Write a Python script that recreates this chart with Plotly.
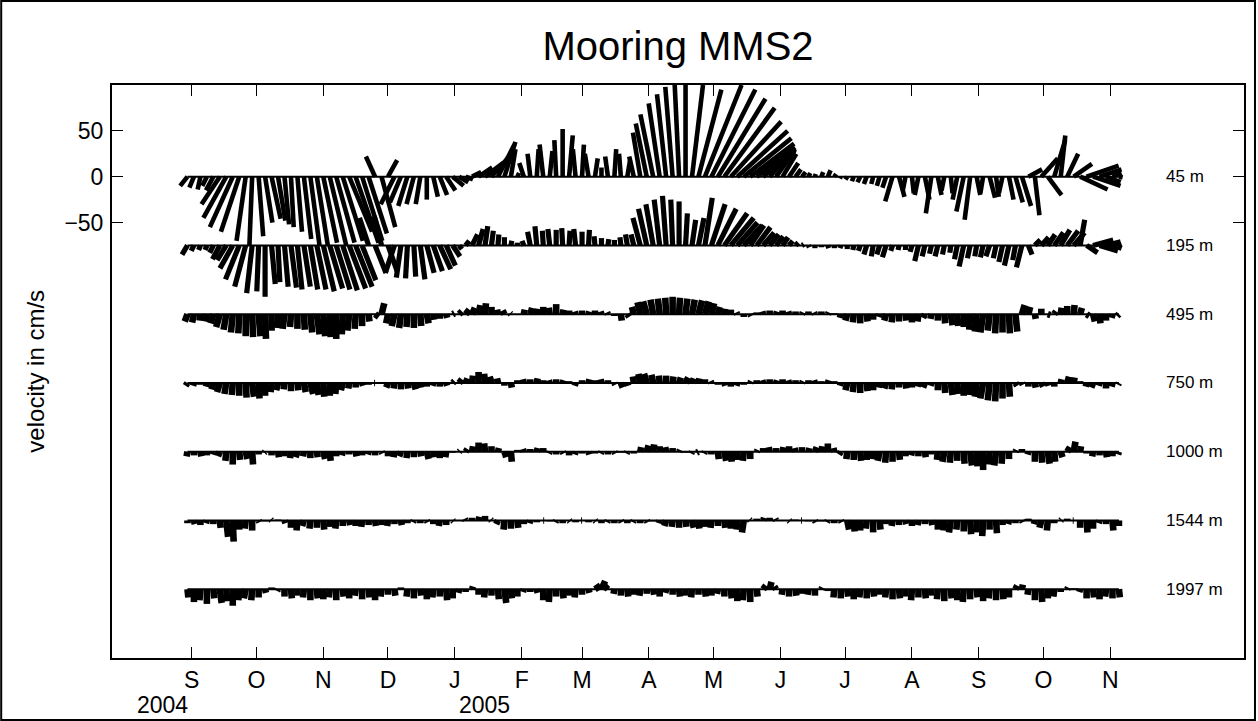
import pandas as pd
import plotly.graph_objects as go

# ---------------- data (cm/s), one stick every 3 days from 2004-08-30 ----------------
start_date = "2004-08-30"
step_days = 3

depth_labels = ["45 m", "195 m", "495 m", "750 m", "1000 m", "1544 m", "1997 m"]
depth_offsets = [0, -75, -150, -225, -300, -375, -450]

v45 = [
    -10, -12, -14, -10, -15, -30, -45, -55, -60, -70,
    -75, -65, -50, -46, -48, -52, -55, -60, -68, -75,
    -75, -72, -75, -72, -70, -60, -72, -70, -62, 22,
    -55, 18, -30, -28, -32, -30, -30, -25, -22, -20,
    -15, -10, -6, -3, 5, 10, 15, 25, 35, 38,
    30, 4, 15, 25, 30, 35, 28, 40, 52, 45,
    30, 35, 25, 20, 10, 22, 30, 25, 18, 22,
    48, 58, 68, 80, 90, 98, 105, 120, 100, 95,
    100, 95, 85, 75, 60, 50, 42, 36, 32, 30,
    30, 28, 25, 15, 8, 5, 4, 3, 5, 7,
    3, -2, -3, -5, -6, -8, -8, -10, -12, -27,
    -22, -15, -18, -20, -25, -40, -20, -15, -18, -25,
    -38, -47, -20, -18, -23, -22, -18, -25, -28, -32,
    8, -42, 20, -20, 40, 45, 25, 14, -14, 12,
    -10, 8, -6, 4, -1]
u45 = [
    -8, -5, -3, -5, -8, -20, -25, -25, -20, -10,
    -3, 5, 8, 10, 8, 5, 3, 5, 8, 10,
    12, 15, 18, 20, 22, 25, 25, 22, 20, -10,
    15, 10, -15, -12, -10, -8, -5, 0, 5, 8,
    10, 12, 10, 8, 10, 15, 20, 22, 18, 12,
    5, 2, -5, -3, 2, -4, 3, -2, 0, 4,
    -3, 2, -4, 3, 0, -3, 2, -2, 3, -5,
    -8, -12, -14, -12, -10, -8, -5, 0, 12, 25,
    40, 48, 52, 55, 55, 55, 52, 48, 42, 35,
    28, 20, 15, 10, 6, 4, 2, 1, 2, 3,
    2, -1, -2, -2, -3, -3, -2, -3, -4, -8,
    6, -3, 2, -4, 5, -6, 4, -3, 2, -5,
    -8, -6, 4, -3, 6, 3, -4, 5, 8, 10,
    15, 5, 18, 15, 12, 5, 12, 20, 30, 35,
    30, 24, 16, 10, 4]

v195 = [
    -10, -6, -5, -5, -8, -15, -16, -25, -37, -45,
    -52, -50, -56, -42, -40, -45, -46, -48, -45, -48,
    -48, -50, -47, -48, -49, -47, -45, -38, 30, -30,
    32, -28, -30, -35, -36, -34, -37, -30, -28, -26,
    -22, -12, -4, 5, 12, 18, 21, 16, 12, 9,
    5, 3, 5, 15, 21, 16, 18, 17, 19, 16,
    18, 15, 17, 10, 8, 7, 6, 9, 12, 12,
    30, 40, 45, 50, 54, 50, 48, 35, 28, 30,
    52, 45, 40, 35, 30, 25, 22, 22, 20, 14,
    12, 10, 9, 5, 3, 1, -2, -3, -2, -3,
    -3, -3, -4, -5, -6, -10, -12, -10, -13, -6,
    -5, -5, -7, -17, -12, -9, -12, -10, -8, -15,
    -23, -14, -12, -13, -12, -14, -18, -22, -16, -24,
    -10, 6, 9, 12, 14, 17, 16, 14, 28, -8,
    6, -6, 4, -3, 1]
u195 = [
    -6, -3, -2, -2, -4, -8, -10, -14, -15, -12,
    -6, -2, 0, 4, 2, 4, 6, 5, 7, 8,
    10, 12, 14, 15, 16, 18, 18, 15, -10, 12,
    -8, 10, -10, -5, -2, 2, 5, 8, 10, 12,
    10, 8, 3, 4, 6, 5, 3, 2, 1, 0,
    1, 0, -2, -3, -2, -1, -2, 0, -1, 1,
    -2, 0, 1, -1, 0, 1, 0, -1, -2, -3,
    -8, -9, -8, -6, -4, -2, 0, 2, 4, 6,
    8, 15, 20, 25, 25, 22, 20, 15, 15, 12,
    10, 8, 6, 4, 3, 2, 1, 0, 0, 1,
    0, -1, 0, -1, -2, -3, -2, -3, -4, -2,
    -1, 0, -2, -4, -3, -2, -3, -2, -1, -3,
    -5, -3, -2, -3, -4, -3, -4, -5, -3, -6,
    4, 6, 8, 8, 10, 10, 12, 12, 5, 12,
    22, 20, 16, 10, 3]

v495 = [
    -8, -9, -7, -8, -10, -14, -17, -20, -21, -24,
    -25, -24, -27, -18, -15, -16, -14, -16, -17, -20,
    -22, -24, -25, -27, -22, -18, -16, -13, -8, -3,
    12, -10, -13, -15, -14, -15, -13, -10, -6, -5,
    -4, 1, 3, 5, 7, 10, 12, 8, 5, 4,
    1, 0, 5, 7, 6, 8, 7, 11, 5, 4,
    3, 4, 3, 4, 3, 2, -2, -7, -3, 8,
    13, 14, 16, 17, 18, 19, 18, 17, 16, 15,
    14, 12, 8, 6, 5, 2, -3, -2, 2, 3,
    4, 3, 4, 3, 3, 2, 3, 2, 3, 2,
    1, -4, -7, -9, -10, -8, -6, -3, -7, -9,
    -8, -7, -9, -8, -4, -5, -7, -10, -12, -13,
    -14, -17, -19, -20, -18, -21, -20, -21, -19, 10,
    8, -5, 6, -1, 3, 7, 9, 10, 7, -2,
    -8, -10, -7, -4, -2]
u495 = [
    -3, -2, -1, -2, -3, -4, -3, -2, -1, 0,
    1, 2, 1, 0, -1, -2, -1, 0, 1, 2,
    3, 2, 1, 0, -1, -2, -1, 0, 1, 4,
    3, -2, -3, -2, -1, 0, 1, 2, 1, 0,
    1, 2, 3, 4, 3, 2, 1, 0, -1, -2,
    -1, 0, 1, 2, 1, 0, -1, 0, 1, 0,
    -1, 0, 1, 0, -1, -1, 0, 1, 2, -2,
    -3, -4, -3, -2, -1, 0, 1, 2, 3, 4,
    4, 3, 2, 1, 0, -1, 0, 1, 0, -1,
    0, 1, 0, -1, 0, 1, 0, -1, 0, 1,
    0, -1, -2, -1, 0, 1, 0, -1, -2, -1,
    0, 1, 0, -1, -2, -1, 0, 1, 2, 1,
    0, -1, -2, -3, -2, -1, 0, 1, 2, 3,
    2, 1, 0, 3, 2, 1, 0, 1, 2, 3,
    2, 1, 0, -1, -2]

v750 = [
    -3, -3, -2, -4, -7, -10, -12, -13, -14, -16,
    -15, -17, -14, -10, -8, -7, -9, -8, -10, -12,
    -13, -15, -14, -12, -8, -6, -5, -3, -2, 0,
    1, -5, -6, -7, -6, -7, -5, -4, -3, -4,
    -3, 2, 4, 5, 8, 12, 10, 7, 5, -3,
    -5, 3, 4, 4, 5, 3, 3, 4, 3, 2,
    -3, 3, 4, 3, 4, 3, -2, -5, -3, 7,
    10, 10, 9, 8, 8, 7, 6, 6, 5, 5,
    4, 2, -2, -3, -4, -3, -2, 2, 3, 3,
    4, 3, 4, 3, 3, 2, 3, 3, 2, 3,
    2, -3, -8, -10, -11, -9, -8, -5, -6, -7,
    -5, -6, -5, -4, -5, -3, -8, -11, -13, -12,
    -14, -13, -15, -17, -19, -20, -17, -15, -3, -2,
    -4, -5, -4, -3, -4, 4, 7, 6, 2, -4,
    -5, -3, -6, -4, -2]
u750 = [
    -2, -1, 0, -1, -2, -3, -2, -1, 0, 1,
    2, 1, 0, -1, -2, -1, 0, 1, 2, 3,
    2, 1, 0, -1, -2, -1, 0, 1, 0, -1,
    0, -2, -1, 0, 1, 2, 1, 0, -1, 0,
    1, 2, 3, 2, 1, 0, -1, -2, -1, 0,
    1, 0, -1, 0, 1, 0, -1, 0, 1, 0,
    -1, 0, 1, 0, -1, 0, 1, 2, 1, -1,
    -2, -3, -2, -1, 0, 1, 2, 3, 2, 1,
    0, -1, 0, 1, 0, -1, 0, 1, 0, -1,
    0, 1, 0, -1, 0, 1, 0, -1, 0, 1,
    0, -1, -2, -1, 0, 1, 0, -1, -2, -1,
    0, 1, 0, -1, -2, -1, 0, 1, 2, 1,
    0, -1, -2, -3, -2, -1, 0, 1, 2, 1,
    0, 1, 2, 1, 0, 1, 2, 1, 0, -1,
    -2, -1, 0, -1, -1]

v1000 = [
    -5, -4, -5, -4, -3, -5, -10, -14, -9, -8,
    -14, -3, -1, -4, -6, -5, -7, -6, -5, -7,
    -6, -8, -10, -5, -4, -3, -5, -4, -3, -4,
    -2, -5, -6, -5, -7, -6, -5, -8, -6, -7,
    -6, -1, 1, 3, 6, 10, 9, 6, 4, -6,
    -11, 2, 3, 3, 4, 4, -2, -3, -2, -4,
    -3, -2, -3, -2, -2, -3, -2, -1, -2, -2,
    5, 7, 8, 6, 5, 4, 2, -1, -2, -1,
    -2, -3, -8, -10, -11, -9, -10, -8, 2, 4,
    5, 4, 5, 6, 4, 5, 4, 5, 6, 9,
    4, -3, -8, -9, -10, -9, -8, -10, -12, -11,
    -9, -5, -4, -5, -6, -3, -9, -11, -12, -10,
    -13, -15, -16, -20, -14, -15, -13, -8, 2, 3,
    -3, -11, -12, -13, -11, -6, 5, 11, 6, -2,
    -5, -4, -6, -5, -3]
u1000 = [
    -1, 0, 1, 0, -1, -2, -1, 0, 1, 2,
    1, 0, -1, 0, 1, 0, -1, -2, -1, 0,
    1, 2, 1, 0, -1, 0, 1, 0, -1, 0,
    1, 0, -1, -2, -1, 0, 1, 2, 1, 0,
    -1, 0, 1, 2, 1, 0, -1, 0, 1, 2,
    1, 0, -1, 0, 1, 0, -1, 0, 1, 0,
    -1, 0, 1, 0, -1, 0, 1, 0, -1, 0,
    1, 2, 1, 0, -1, 0, 1, 0, -1, -2,
    -1, 0, 1, 2, 1, 0, -1, 0, 1, 0,
    -1, 0, 1, 0, -1, 0, 1, 2, 1, 0,
    -1, -2, -1, 0, 1, 0, -1, -2, -1, 0,
    1, 0, -1, 0, 1, 0, -1, -2, -1, 0,
    1, 2, 1, 0, -1, -2, -1, 0, 1, 0,
    -1, 0, 1, 2, 1, 2, 3, 2, 1, 0,
    -1, 0, 1, 0, -1]

v1544 = [
    -3, -4, -5, -3, -4, -8, -18, -23, -10, -9,
    -11, -2, -1, 1, 1, -3, -8, -11, -6, -9,
    -8, -10, -7, -9, -6, -5, -6, -7, -5, -6,
    -5, -6, -4, -5, -3, -2, -3, -2, -4, -6,
    -5, -1, 0, 2, 3, 4, 5, 1, -4, -10,
    -9, -8, -4, -3, -2, 0, -1, -2, -3, -1,
    -2, 0, -2, -1, -3, -2, -3, -2, -3, -2,
    -3, -2, -1, -3, -6, -7, -8, -7, -8, -9,
    -7, -8, -6, -8, -9, -10, -13, 1, 2, 3,
    3, 2, 0, -1, 1, 0, -1, -2, -1, -2,
    -3, -2, -10, -12, -11, -9, -13, -10, -4, -6,
    -5, -4, -6, -5, -4, -5, -10, -11, -13, -10,
    -12, -15, -13, -17, -10, -14, -5, -4, -3, -2,
    2, -4, -8, -11, -3, 1, 2, 0, -8, -13,
    -9, -3, -4, -11, -6]
u1544 = [
    0, 1, 0, -1, 0, 1, 2, 1, 0, -1,
    0, 1, 0, -1, 0, 1, 0, -1, -2, -1,
    0, 1, 0, -1, 0, 1, 0, -1, 0, 1,
    0, -1, 0, 1, 0, -1, 0, 1, 0, -1,
    0, 1, 0, -1, 0, 1, 0, -1, -2, -1,
    0, 1, 0, -1, 0, 1, 0, -1, 0, 1,
    0, -1, 0, 1, 0, -1, 0, 1, 0, -1,
    0, 1, 0, -1, -2, -1, 0, 1, 2, 1,
    0, -1, 0, 1, 0, -1, -2, -1, 0, 1,
    0, -1, 0, 1, 0, -1, 0, 1, 0, -1,
    0, 1, 2, 1, 0, -1, 0, 1, 0, -1,
    0, 1, 0, -1, 0, 1, 0, -1, -2, -1,
    0, 1, 0, -1, 0, 1, 0, -1, 0, 1,
    0, -1, -2, -1, 0, 1, 0, -1, 0, 1,
    0, -1, 0, 1, 0]

v1997 = [
    -9, -14, -12, -16, -10, -15, -13, -18, -12, -10,
    -12, -9, -4, 2, -2, -8, -10, -7, -9, -12,
    -10, -11, -9, -12, -8, -10, -7, -11, -9, -12,
    -8, -6, -7, 2, -8, -10, -7, -11, -9, -8,
    -12, -10, -4, -3, 3, -6, -9, -7, -11, -15,
    -10, -8, -3, -3, -4, -12, -14, -8, -10, -7,
    -9, -6, -4, 4, 9, 6, -5, -7, -8, -6,
    -7, -5, -6, -8, -4, -6, -8, -7, -9, -6,
    -8, -7, -5, -8, -10, -13, -12, -14, -8, 4,
    8, 3, -6, -8, -7, -5, -6, -7, 2, -2,
    -9, -10, -8, -11, -9, -10, -8, -6, -9, -11,
    -10, -8, -12, -9, -10, -7, -11, -13, -10, -12,
    -14, -11, -9, -13, -10, -12, -11, -9, 4, 5,
    -6, -12, -14, -10, -8, -3, 2, 1, -3, -10,
    -9, -11, -8, -10, -9]
u1997 = [
    1, 0, -1, 0, 1, 2, 1, 0, -1, -2,
    -1, 0, 1, 0, -1, 0, 1, 0, -1, 0,
    1, 0, -1, 0, 1, 0, -1, 0, 1, 0,
    -1, 0, 1, 0, -1, 0, 1, 0, -1, 0,
    1, 0, -1, 0, 1, 0, -1, 0, 1, 2,
    1, 0, -1, 0, 1, 0, -1, 0, 1, 0,
    -1, 0, 1, 6, 4, -6, -1, 0, 1, 0,
    -1, 0, 1, 0, -1, 0, 1, 0, -1, 0,
    1, 0, -1, 0, 1, 0, -1, 0, 1, 3,
    2, -2, -1, 0, 1, 0, -1, 0, 1, 0,
    -1, 0, 1, 0, -1, 0, 1, 0, -1, 0,
    1, 0, -1, 0, 1, 0, -1, 0, 1, 0,
    -1, 0, 1, 0, -1, 0, 1, 0, 2, 1,
    -1, 0, 1, 0, -1, 0, 1, 0, -1, 0,
    1, 0, -1, 0, 1]

series_u = [u45, u195, u495, u750, u1000, u1544, u1997]
series_v = [v45, v195, v495, v750, v1000, v1544, v1997]

month_ticks = ["2004-09-01", "2004-10-01", "2004-11-01", "2004-12-01", "2005-01-01",
               "2005-02-01", "2005-03-01", "2005-04-01", "2005-05-01", "2005-06-01",
               "2005-07-01", "2005-08-01", "2005-09-01", "2005-10-01", "2005-11-01"]
month_letters = ["S", "O", "N", "D", "J", "F", "M", "A", "M", "J", "J", "A", "S", "O", "N"]
year_labels = ["2004", "2005"]

# ---------------- figure ----------------
x_range = ["2004-07-26", "2006-01-02"]
y_range = [-525, 100]
W, H = 1258, 721
ml, mr, mt, mb = 112, 12, 85, 63
pw, ph = W - ml - mr, H - mt - mb

# horizontal stick scale: same pixel length per cm/s as the vertical axis
px_per_day = pw / (pd.Timestamp(x_range[1]) - pd.Timestamp(x_range[0])).days
px_per_cms = ph / (y_range[1] - y_range[0])
days_per_cms = px_per_cms / px_per_day

t0 = pd.Timestamp(start_date)
fmt = "%Y-%m-%d %H:%M:%S"
stick_widths = [4.6, 5.2, 6.6, 6.6, 6.6, 6.6, 6.6]

fig = go.Figure()
for off, U, V, lw in zip(depth_offsets, series_u, series_v, stick_widths):
    xs, ys = [], []
    for i, (u, v) in enumerate(zip(U, V)):
        t = t0 + pd.Timedelta(days=step_days * i)
        tip = t + pd.Timedelta(days=u * days_per_cms)
        xs += [t.strftime(fmt), tip.strftime(fmt), None]
        ys += [off, off + v, None]
    fig.add_trace(go.Scatter(x=xs, y=ys, mode="lines",
                             line=dict(color="black", width=lw),
                             hoverinfo="skip", showlegend=False))
    t_end = t0 + pd.Timedelta(days=step_days * (len(V) - 1))
    fig.add_trace(go.Scatter(x=[t0.strftime(fmt), t_end.strftime(fmt)], y=[off, off],
                             mode="lines", line=dict(color="black", width=2),
                             hoverinfo="skip", showlegend=False))

font_family = "Liberation Sans, Arial, Helvetica, sans-serif"

annotations = []
for lab, off in zip(depth_labels, depth_offsets):
    annotations.append(dict(x="2005-11-26", y=off, xref="x", yref="y", text=lab,
                            showarrow=False, xanchor="left", yanchor="middle",
                            font=dict(size=17, color="black", family=font_family)))
annotations.append(dict(x=(163 - ml) / pw, y=(mt + ph - 705) / ph, xref="paper", yref="paper",
                        text=year_labels[0], showarrow=False, xanchor="center", yanchor="middle",
                        font=dict(size=23, color="black", family=font_family)))
annotations.append(dict(x=(485 - ml) / pw, y=(mt + ph - 705) / ph, xref="paper", yref="paper",
                        text=year_labels[1], showarrow=False, xanchor="center", yanchor="middle",
                        font=dict(size=23, color="black", family=font_family)))
annotations.append(dict(x=(35 - ml) / pw, y=0.5, xref="paper", yref="paper",
                        text="velocity in cm/s", textangle=-90, showarrow=False,
                        xanchor="center", yanchor="middle",
                        font=dict(size=24, color="black", family=font_family)))

fig.update_layout(
    width=W, height=H,
    margin=dict(l=ml, r=mr, t=mt, b=mb),
    paper_bgcolor="white", plot_bgcolor="white",
    showlegend=False,
    font=dict(family=font_family, color="black"),
    title=dict(text="Mooring MMS2", x=0.5, xref="paper", xanchor="center",
               y=1 - 46 / H, yref="container", yanchor="middle",
               font=dict(size=40, color="black", family=font_family)),
    annotations=annotations,
    shapes=[dict(type="rect", xref="paper", yref="paper",
                 x0=(1 - ml) / pw, x1=1 + (mr - 1) / pw,
                 y0=-(mb - 1) / ph, y1=1 + (mt - 1) / ph,
                 line=dict(color="black", width=2), fillcolor="rgba(0,0,0,0)")],
)
fig.update_xaxes(type="date", range=x_range, tickmode="array", tickvals=month_ticks,
                 ticktext=month_letters, ticks="inside", ticklen=11, tickwidth=1,
                 tickcolor="black", showline=True, linecolor="black", linewidth=2,
                 mirror="ticks", showgrid=False, zeroline=False,
                 tickfont=dict(size=23, color="black", family=font_family),
                 ticklabelstandoff=0)
fig.update_yaxes(range=y_range, tickmode="array", tickvals=[-50, 0, 50],
                 ticktext=["\u221250", "0", "50"], ticks="inside", ticklen=11, tickwidth=1,
                 tickcolor="black", showline=True, linecolor="black", linewidth=2,
                 mirror="ticks", showgrid=False, zeroline=False,
                 tickfont=dict(size=23, color="black", family=font_family),
                 ticklabelstandoff=2)

fig.write_html("out.html")
